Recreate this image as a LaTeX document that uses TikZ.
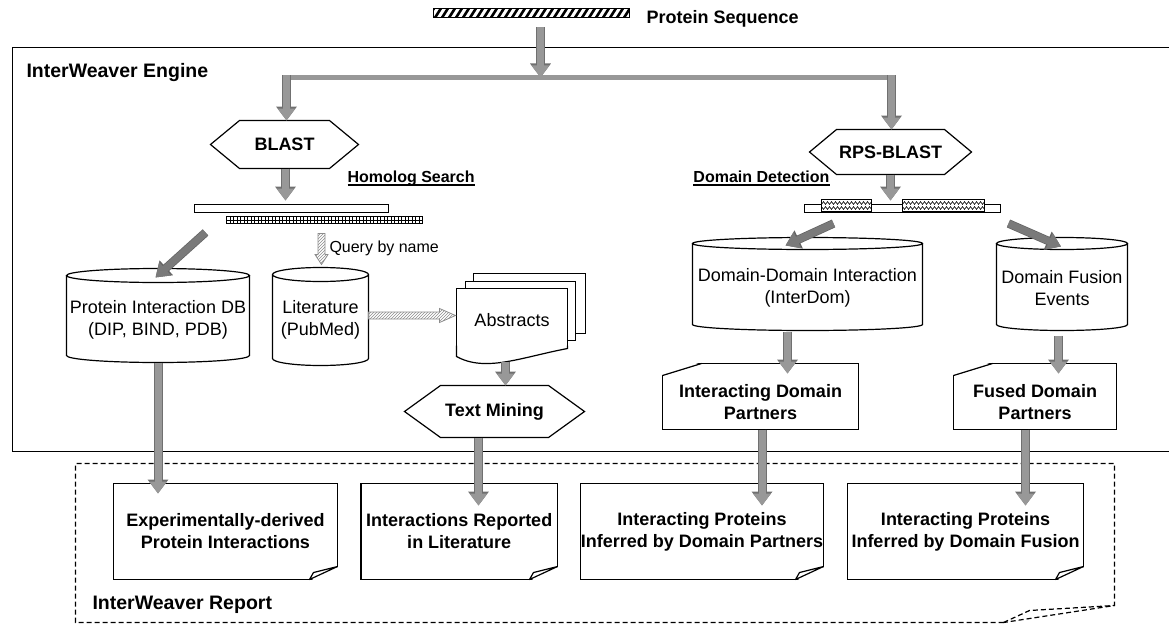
\documentclass[tikz,border=0pt]{standalone}
\usepackage{fontspec}
\setmainfont{Liberation Sans}
\usetikzlibrary{arrows.meta,calc,patterns,decorations.pathmorphing}

\definecolor{arrfill}{RGB}{152,152,152}
\definecolor{arredge}{RGB}{112,112,112}
\definecolor{diagfill}{RGB}{122,122,122}
\definecolor{diagedge}{RGB}{100,100,100}
\definecolor{hatchline}{RGB}{140,140,140}

% horizontal hexagon (preparation symbol) around a node
\newcommand\hexout[2]{%
  \draw (#1.west) -- ([xshift=#2]#1.north west) -- ([xshift=-#2]#1.north east)
    -- (#1.east) -- ([xshift=-#2]#1.south east) -- ([xshift=#2]#1.south west) -- cycle;}
% database cylinder around a node
\newcommand\cylout[2]{%
  \draw let \p1=(#1.north west), \p2=(#1.south east), \n1={(\x2-\x1)/2} in
    (\x1,\y1-#2) -- (\x1,\y2+#2)
    arc[start angle=180, end angle=360, x radius=\n1, y radius=#2]
    -- (\x2,\y1-#2)
    (\x1+\n1,\y1-#2) ellipse[x radius=\n1, y radius=#2];}
% curled lower right corner of a framed report page
\newcommand\curlcorner[1]{%
  \fill[white] let \p2=(#1.south east) in
    (\x2-28pt,\y2-1.5pt) -- (\x2+1.5pt,\y2-1.5pt) -- (\x2+1.5pt,\y2+13pt) -- cycle;
  \draw let \p2=(#1.south east) in
    (\x2-28pt,\y2) -- (\x2,\y2+13pt)
    (\x2-28pt,\y2) -- (\x2-24pt,\y2+7pt) -- (\x2,\y2+13pt);}
% slanted upper left corner of a framed manual-input card
\newcommand\slantcorner[1]{%
  \fill[white] let \p1=(#1.north west) in
    (\x1-1.5pt,\y1+1.5pt) -- (\x1+39pt,\y1+1.5pt) -- (\x1-1.5pt,\y1-12pt) -- cycle;
  \draw let \p1=(#1.north west) in (\x1,\y1-12pt) -- (\x1+39pt,\y1);}

\begin{document}
\begin{tikzpicture}[x=1pt,y=-1pt,line width=1.2pt,
  every node/.style={inner sep=0pt,outer sep=0pt},
  box/.style={rectangle},
  frame/.style={rectangle,draw=black,line width=1.2pt},
  bf/.style={font=\fontsize{18}{22}\selectfont\bfseries,align=center},
  rm/.style={font=\fontsize{18}{22}\selectfont,align=center},
  small/.style={font=\fontsize{16}{19}\selectfont},
  smallbf/.style={font=\fontsize{16}{19}\selectfont\bfseries},
  title/.style={font=\fontsize{19.5}{23}\selectfont\bfseries},
  blk/.style={draw=arrfill,line width=7pt,-{Triangle[width=17pt,length=12pt]},
    preaction={draw=arredge,line width=9pt,-{Triangle[width=20pt,length=14pt]}}},
  diag/.style={draw=diagfill,line width=7pt,-{Triangle[width=17pt,length=13pt]},
    preaction={draw=diagedge,line width=8.5pt,-{Triangle[width=19pt,length=14.5pt]}}},
  splitbar/.style={draw=arrfill,line width=5pt},
  hatcharrow/.style={draw=hatchline,line width=0.8pt,pattern=north east lines,pattern color=hatchline},
  reportframe/.style={dash pattern=on 5pt off 3pt,line width=1.2pt},
]
\useasboundingbox (-0.5,-0.5) rectangle (1168.5,625.5);

% ---------- engine frame and titles ----------
\draw (1169,47) -- (12,47) -- (12,451) -- (1169,451);
\node[title,anchor=base west] (engT) at (26,77) {InterWeaver Engine};

% ---------- input sequence ----------
\node[box,minimum width=196pt,minimum height=9pt] (seq) at (531,12.5) {};
\begin{scope}
  \clip (seq.south west) rectangle (seq.north east);
  \foreach \i in {0,...,30} \draw[line width=2.6pt] ({427+7*\i},18) -- ({434+7*\i},7);
\end{scope}
\draw (seq.south west) rectangle (seq.north east);
\node[bf,anchor=base west] (seqT) at (646,23) {Protein Sequence};

\coordinate (split) at (540,77);
\coordinate (brL) at (286,77);
\coordinate (brR) at (891,77);

% ---------- search tools ----------
\node[box,bf,minimum width=148pt,minimum height=48pt] (blast) at (284,144) {BLAST};
\node[box,bf,minimum width=162pt,minimum height=45pt] (rps) at (890,151.5) {RPS-BLAST};
\hexout{blast}{29pt}
\hexout{rps}{27pt}

\node[smallbf,anchor=base west] (hs) at (347,182) {Homolog Search};
\draw[line width=1.4pt] ($(hs.base west)+(0,2.5)$) -- ($(hs.base east)+(0,2.5)$);
\node[smallbf,anchor=base east] (dd) at (829,182) {Domain Detection};
\draw[line width=1.4pt] ($(dd.base west)+(0,2.5)$) -- ($(dd.base east)+(0,2.5)$);

% homolog hits
\node[box,draw,minimum width=194pt,minimum height=8pt] (hitA) at (291,208) {};
\node[box,minimum width=196pt,minimum height=7pt] (hitB) at (324,219.5) {};
\foreach \i in {0,...,55} \draw[line width=0.8pt] ({226+3.5*\i},216) -- ({226+3.5*\i},223);
\draw[line width=0.8pt] (hitB.west) -- (hitB.east);
\draw (hitB.south west) rectangle (hitB.north east);

% detected domains
\node[box,draw,minimum width=196pt,minimum height=8pt] (dbar) at (902,208) {};
\node[box,minimum width=50pt,minimum height=12pt] (domA) at (846,205) {};
\node[box,minimum width=82pt,minimum height=12pt] (domB) at (943,205) {};
\foreach \d in {domA,domB}{
  \fill[white] (\d.south west) rectangle (\d.north east);
  \begin{scope}
    \clip (\d.south west) rectangle (\d.north east);
    \draw[line width=0.6pt,decorate,decoration={zigzag,segment length=4pt,amplitude=1.4pt}]
      ($(\d.west)+(-3,-2.5)$) -- ($(\d.east)+(3,-2.5)$);
    \draw[line width=0.6pt,decorate,decoration={zigzag,segment length=4pt,amplitude=1.4pt}]
      ($(\d.west)+(-1,2.5)$) -- ($(\d.east)+(3,2.5)$);
  \end{scope}
  \draw (\d.south west) rectangle (\d.north east);
}

\node[small,anchor=base west] (qbn) at (329,252) {Query by name};

% ---------- databases ----------
\node[box,minimum width=183pt,minimum height=94pt,
  label={[rm,yshift=-4pt]center:{Protein Interaction DB\\(DIP, BIND, PDB)}}] (pidb) at (157.5,315) {};
\node[box,minimum width=96pt,minimum height=98pt,
  label={[rm,yshift=-3pt]center:{Literature\\(PubMed)}}] (lit) at (320,316) {};
\node[box,minimum width=230pt,minimum height=93pt,
  label={[rm,yshift=-4pt]center:{Domain-Domain Interaction\\(InterDom)}}] (ddi) at (807,283.5) {};
\node[box,minimum width=131pt,minimum height=93pt,
  label={[rm,yshift=-4pt]center:{Domain Fusion\\Events}}] (dfe) at (1061.5,283.5) {};
\cylout{pidb}{7pt}
\cylout{lit}{7pt}
\cylout{ddi}{6pt}
\cylout{dfe}{6pt}

% ---------- abstracts (stacked documents) ----------
\draw[fill=white] (473,273) rectangle (585,333);
\draw[fill=white] (465,281) rectangle (575,340);
\node[frame,fill=white,minimum width=111pt,minimum height=75pt,
  label={[rm,yshift=6pt]center:Abstracts}] (abs) at (511.5,325.5) {};
% wavy lower edge of the front page
\fill[white] ($(abs.south west)+(-1.5,-7)$) -- ($(abs.south west)+(-1.5,1.5)$)
  -- ($(abs.south east)+(1.5,1.5)$) -- ($(abs.south east)+(1.5,-16)$) -- cycle;
\fill[white] ($(abs.south east)+(1.5,-15)$) -- ($(abs.south east)+(0,-15)$)
  .. controls ($(abs.south east)+(-47,-6)$) and ($(abs.south east)+(-82,9)$) ..
  ($(abs.south west)+(0,-7)$) -- ($(abs.south west)+(-1.5,-7)$) -- cycle;
\draw (abs.south east |- 0,345) -- ($(abs.south east)+(0,-15)$)
  .. controls ($(abs.south east)+(-47,-6)$) and ($(abs.south east)+(-82,9)$) ..
  ($(abs.south west)+(0,-7)$) -- (abs.south west |- 0,345);

\node[box,bf,minimum width=180pt,minimum height=52pt] (tm) at (494,411) {Text Mining};
\hexout{tm}{36pt}

% ---------- domain partners ----------
\node[frame,minimum width=196pt,minimum height=66pt,
  label={[bf,yshift=-6pt]center:{Interacting Domain\\Partners}}] (idp) at (760,396) {};
\node[frame,minimum width=163pt,minimum height=66pt,
  label={[bf,yshift=-6pt]center:{Fused Domain\\Partners}}] (fdp) at (1034.5,396) {};
\slantcorner{idp}
\slantcorner{fdp}

% ---------- report ----------
\draw[reportframe] (1003,622) -- (75,622) -- (75,463) -- (1114,463) -- (1114,605) -- cycle;
\draw[reportframe] (1003,622) -- (1029,610) -- (1114,605);
\node[title,anchor=base west] (repT) at (92,609) {InterWeaver Report};

\node[frame,bf,minimum width=224pt,minimum height=96pt] (d1) at (225,531)
  {Experimentally-derived\\Protein Interactions};
\node[frame,bf,minimum width=196.5pt,minimum height=96pt] (d2) at (458.75,531)
  {Interactions Reported\\in Literature};
\node[frame,bf,minimum width=243pt,minimum height=96pt] (d3) at (701.5,531)
  {Interacting Proteins\\Inferred by Domain Partners};
\node[frame,bf,minimum width=236pt,minimum height=96pt] (d4) at (965,531)
  {Interacting Proteins\\Inferred by Domain Fusion};
\curlcorner{d1}
\curlcorner{d2}
\curlcorner{d3}
\curlcorner{d4}

% ---------- flow ----------
\draw[blk] ($(seq.south)+(9,10)$) -- (split);
\draw[splitbar] (brL) -- (brR);
\draw[blk] ($(brL)+(0,-2)$) -- ($(blast.north)+(2,0)$);
\draw[blk] ($(brR)+(0,-2)$) -- ($(rps.north)+(1,0)$);

\draw[blk] ($(blast.south)+(1,0)$) -- ($(hitA.north)+(-6,-4)$);
\draw[blk] (rps.south) -- ($(dbar.north)+(-12,-4)$);

\draw[diag] ($(hitA.south west)+(11,20)$) -- ($(pidb.north)+(-2.5,9)$);
\draw[diag] ($(dbar.south west)+(29,11)$) -- ($(ddi.north)+(-22,8)$);
\draw[diag] ($(dbar.south east)+(8,11)$) -- ($(dfe.north)+(-1,9)$);

% query by name / literature to abstracts
\draw[hatcharrow] let \p1=($(lit.north)+(1,-34)$), \p2=($(lit.north)+(1,-3)$) in
  (\x1-3.5pt,\y1) -- (\x1+3.5pt,\y1) -- (\x1+3.5pt,\y2+10pt) -- (\x1+6.5pt,\y2+10pt)
  -- (\x2,\y2) -- (\x1-6.5pt,\y2+10pt) -- (\x1-3.5pt,\y2+10pt) -- cycle;
\draw[hatcharrow] let \p1=(lit.east), \p2=($(abs.west)+(-1,-10.5)$) in
  (\x1,\y2+3.5pt) -- (\x2-16pt,\y2+3.5pt) -- (\x2-16pt,\y2+7pt) -- (\x2,\y2)
  -- (\x2-16pt,\y2-7pt) -- (\x2-16pt,\y2-3.5pt) -- (\x1,\y2-3.5pt) -- cycle;

\draw[blk] ($(abs.south)+(-6.5,-2)$) -- ($(tm.north)+(11,0)$);
\draw[blk] ($(ddi.south)+(-20,1)$) -- ($(idp.north)+(27,10)$);
\draw[blk] ($(dfe.south)+(-3.5,5)$) -- ($(fdp.north)+(23.5,10)$);

\draw[blk] (pidb.south) -- ($(pidb.south |- d1.north)+(0,10)$);
\draw[blk] ($(tm.south)+(-16,0)$) -- ($(d2.north)+(19.25,22)$);
\draw[blk] ($(idp.south)+(1.5,0)$) -- ($(d3.north)+(60,22)$);
\draw[blk] ($(fdp.south)+(-9.5,0)$) -- ($(d4.north)+(60,22)$);
\end{tikzpicture}
\end{document}
